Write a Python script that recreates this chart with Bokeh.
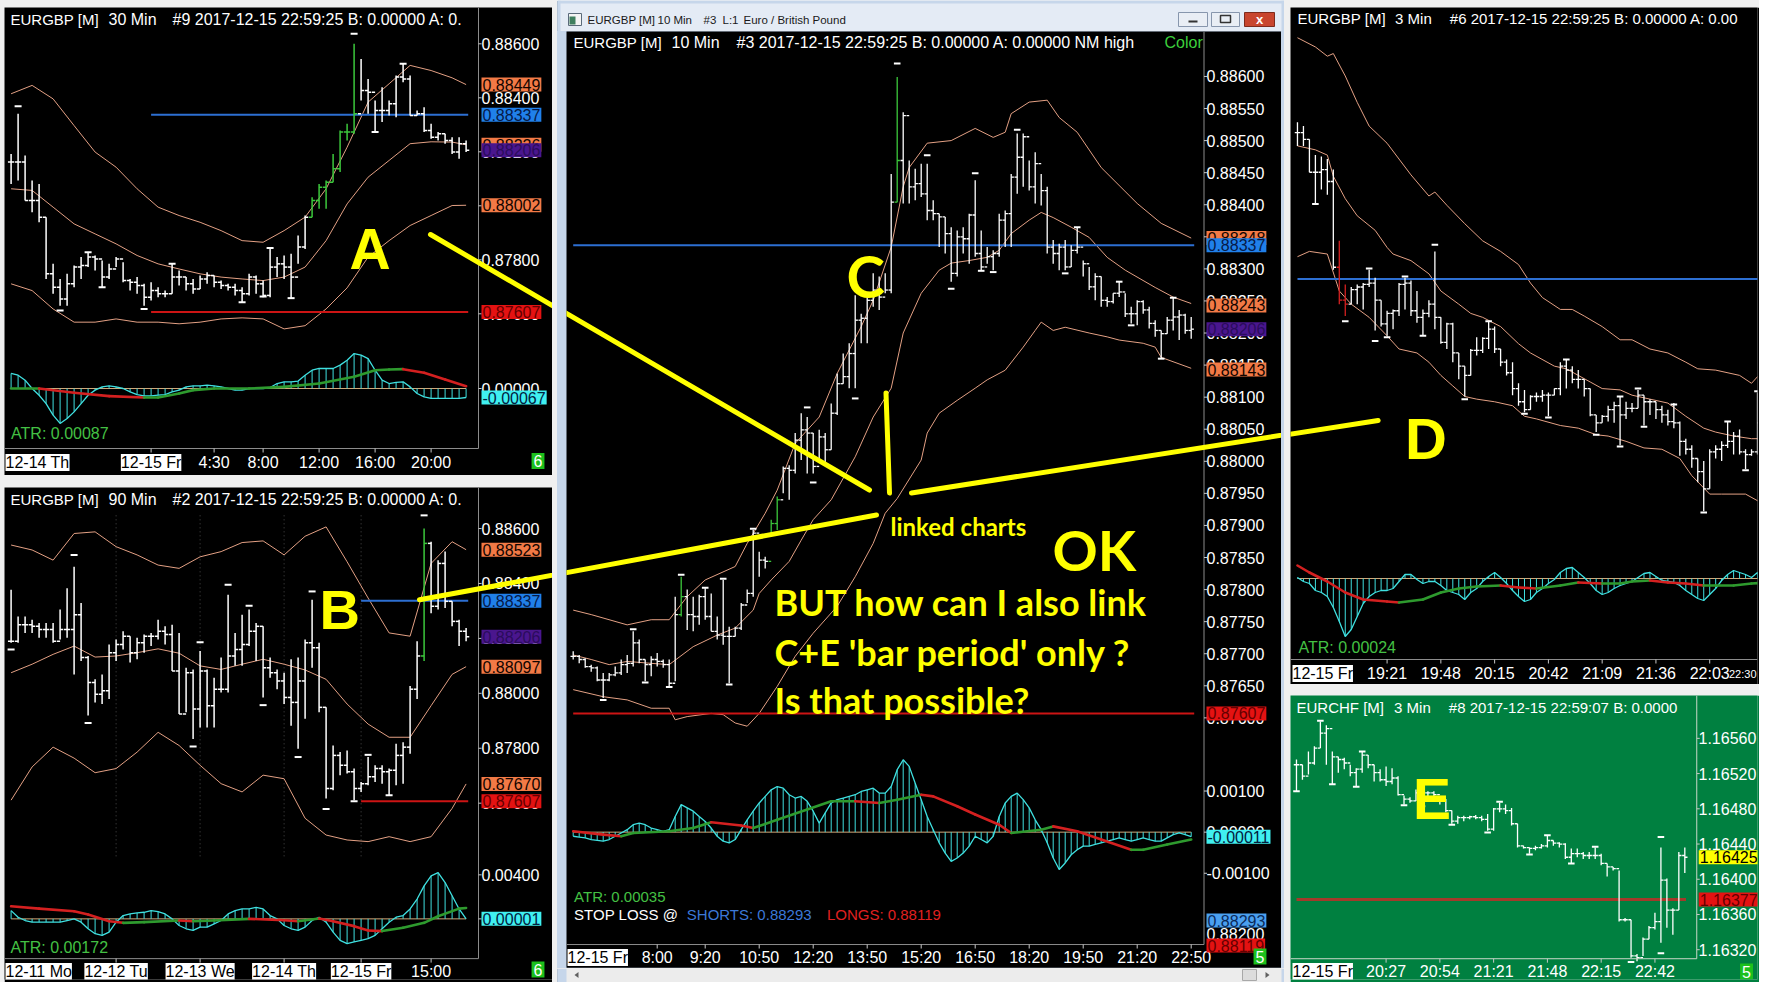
import numpy as np
from bokeh.plotting import figure
from bokeh.models import Range1d, FixedTicker, PrintfTickFormatter, Label, Arrow, Spacer
from bokeh.layouts import row, column
from bokeh.embed import file_html
from bokeh.resources import INLINE

# ===================== DATA (prices in 1e-5 units) =====================
# ---------- A : EURGBP 30 Min ----------
A_high = [88192,88341,88186,88094,88081,87958,87785,87729,87748,87779,87810,87828,87816,87797,87785,87810,87791,87729,87736,87711,87717,87698,87686,87785,87760,87736,87729,87742,87754,87742,87723,87711,87711,87698,87748,87742,87723,87847,87810,87816,87822,87890,87964,88032,88081,88094,88192,88279,88304,88600,88544,88470,88390,88439,88390,88483,88526,88483,88353,88365,88304,88273,88267,88254,88254,88242]
A_low = [88081,88094,88020,87976,87939,87729,87674,87630,87630,87698,87729,87773,87760,87698,87729,87773,87717,87686,87674,87630,87649,87661,87661,87674,87705,87686,87674,87692,87711,87698,87692,87686,87668,87643,87668,87674,87661,87661,87736,87729,87655,87785,87840,87958,87989,87989,88087,88125,88242,88267,88390,88341,88273,88310,88334,88328,88458,88334,88334,88273,88248,88242,88230,88192,88174,88199]
A_close = [88162,88162,88020,88020,87958,87748,87698,87655,87711,87773,87779,87810,87803,87736,87766,87803,87723,87717,87705,87661,87686,87674,87674,87736,87736,87711,87692,87729,87742,87717,87705,87698,87686,87674,87736,87711,87668,87773,87785,87773,87736,87847,87958,88020,88069,88087,88137,88273,88273,88341,88427,88421,88353,88353,88378,88477,88470,88334,88341,88279,88254,88267,88242,88199,88230,88206]
A_green = [43, 44, 45, 46, 47, 48, 49]
A_mark_idx = [1, 7, 11, 13, 19, 23, 33, 36, 37, 40, 49, 52, 56]
A_mark = [88369, 87612, 87828, 87698, 87618, 87785, 87643, 87664, 87844, 87658, 88637, 88273, 88526]
A_band_idx = [0,3,6,9,12,15,18,21,24,27,30,33,36,39,42,45,48,51,54,57,60,63,65]
A_upper = [88415,88446,88396,88297,88199,88143,88063,87995,87964,87939,87908,87871,87865,87908,87958,88063,88217,88384,88452,88520,88501,88474,88449]
A_mid = [88063,88057,87995,87933,87896,87859,87816,87785,87766,87748,87736,87729,87723,87736,87773,87871,88007,88106,88168,88230,88237,88236,88226]
A_lower = [87711,87686,87618,87569,87569,87581,87569,87569,87563,87569,87581,87585,87581,87544,87556,87618,87696,87810,87871,87927,87964,88001,88002]
A_hist = [112,99,62,0,-50,-112,-198,-260,-223,-174,-112,-50,-12,12,20,12,0,-25,-45,-55,-55,-50,-45,-25,-12,12,20,20,25,20,12,0,-12,-12,0,0,0,7,37,50,50,55,99,136,149,149,149,174,211,260,248,223,136,62,37,45,50,12,-37,-62,-74,-74,-74,-74,-74,-67]
A_sig_idx = [0,4,9,14,19,21,24,26,29,34,39,44,49,52,54,56,59,62,65]
A_sig = [0,0,-32,-57,-67,-67,-37,-12,0,0,12,37,87,136,141,144,117,67,17]
A_levels = [0.88337, 0.87607]
A_level_from = 20
A_time_ticks = [29, 36, 44, 52, 60]
A_time_labels = ["4:30", "8:00", "12:00", "16:00", "20:00"]
A_date_ticks = [20]
A_date_labels = ["12-15 Fr"]
A_price_ticks = [0.876, 0.878, 0.880, 0.882, 0.884, 0.886]
A_ind_ticks = [0.0]
A_tags = [0.88449, 0.88337, 0.88226, 0.88206, 0.88002, 0.87607]
A_tag_kinds = ["orange", "blue", "orange", "purple", "orange", "red"]
A_ind_tag = -0.00067

# ---------- B : EURGBP 90 Min ----------
B_high = [88377,88280,88280,88268,88256,88256,88256,88305,88383,88461,88329,88136,88051,88069,88178,88196,88226,88208,88202,88214,88220,88268,88244,88250,88220,88093,88087,88154,88087,88057,88130,88359,88220,88286,88305,88256,88244,88130,88087,88075,88124,88130,88196,88341,88184,87949,87810,87786,87792,87726,87677,87768,87738,87738,87726,87816,87822,88027,88190,88600,88552,88485,88516,88335,88268,88238]
B_low = [88184,88184,88220,88220,88202,88202,88184,88196,88202,88069,88118,87919,87967,87961,87979,88118,88160,88112,88124,88148,88172,88196,88178,88081,87925,87931,87834,87876,87876,87876,88003,88003,88100,88100,88172,88118,87985,88057,88015,87961,87882,87798,87907,88093,87931,87617,87647,87702,87708,87611,87641,87665,87677,87671,87629,87665,87671,87780,87979,88118,88292,88305,88311,88244,88172,88190]
B_close = [88190,88250,88250,88244,88232,88232,88190,88232,88232,88286,88130,88039,87997,88009,88148,88178,88208,88148,88184,88208,88208,88226,88214,88081,87925,88075,87943,88081,87955,88015,88015,88136,88160,88178,88226,88244,88093,88075,88045,87985,87967,88045,88184,88166,87949,87653,87774,87738,87714,87653,87671,87696,87726,87714,87720,87774,87804,88015,88136,88546,88317,88473,88335,88262,88226,88206]
B_green = [59]
B_mark_idx = [0, 9, 11, 26, 27, 31, 34, 36, 41, 43, 45, 49, 51, 54, 59]
B_mark = [88160, 88504, 87892, 87806, 88186, 88395, 88319, 87957, 87768, 88371, 87579, 87607, 87776, 87629, 88648]
B_band_idx = [0,3,6,9,12,15,18,21,24,27,30,33,36,39,42,45,48,51,54,57,60,63,65]
B_upper = [88540,88522,88485,88582,88588,88534,88504,88467,88455,88497,88516,88549,88555,88504,88572,88606,88479,88347,88220,88208,88473,88552,88523]
B_mid = [88075,88106,88142,88172,88132,88136,88148,88162,88146,88100,88087,88106,88124,88106,88085,88051,87961,87888,87840,87840,87955,88069,88097]
B_lower = [87611,87732,87804,87764,87711,87726,87786,87858,87810,87738,87671,87641,87702,87689,87545,87484,87466,87460,87478,87460,87478,87581,87670]
B_hist = [75,15,-15,-30,-30,-30,-30,-30,-15,0,-30,-90,-135,-150,-120,-30,30,45,54,60,75,66,45,0,-60,-90,-105,-75,-75,-45,-15,45,75,90,90,105,90,30,0,-60,-90,-105,-75,-15,15,-30,-120,-195,-225,-210,-195,-180,-150,-90,-30,15,30,90,180,300,390,420,330,210,90,1]
B_sig_idx = [0,4,9,11,14,16,19,24,26,29,34,39,41,44,46,49,51,53,56,59,61,64,65]
B_sig = [114,93,69,39,-21,-36,-30,-15,-21,-15,0,-12,-21,3,-21,-66,-105,-111,-81,-36,24,93,99]
B_levels = [0.88337, 0.87607]
B_level_from = 50
B_time_ticks = [60]
B_time_labels = ["15:00"]
B_date_ticks = [15, 27, 39, 50]
B_date_labels = ["12-12 Tu", "12-13 We", "12-14 Th", "12-15 Fr"]
B_price_ticks = [0.876, 0.878, 0.880, 0.882, 0.884, 0.886]
B_ind_ticks = [0.004, 0.0]
B_tags = [0.88523, 0.88337, 0.88206, 0.88097, 0.87670, 0.87607]
B_tag_kinds = ["orange", "blue", "purple", "orange", "orange", "red"]
B_ind_tag = 0.00001

# ---------- C : EURGBP 10 Min ----------
C_high = [87704,87698,87693,87683,87680,87670,87670,87680,87691,87698,87735,87722,87691,87696,87701,87691,87691,87789,87820,87800,87789,87792,87802,87794,87758,87815,87742,87742,87779,87800,87893,87859,87851,87909,87945,
          87992,87994,88044,88075,88069,88044,88049,88044,88090,88137,88168,88184,88259,88230,88262,88293,88288,88293,88448,88599,88544,88469,88456,88464,88464,88407,88386,88381,88365,88360,88365,88386,88438,88360,88334,88329,88386,88391,88448,88511,88511,88469,88482,88448,88428,88345,88339,88345,88337,88365,88313,88303,88293,88288,88256,88262,88280,88262,88241,88251,88251,88241,88220,88204,88225,88256,88236,88230,88225]
C_low = [87691,87685,87678,87672,87657,87631,87657,87665,87667,87670,87680,87685,87657,87665,87680,87678,87649,87657,87758,87737,87735,87745,87753,87735,87722,87714,87654,87727,87737,87779,87789,87820,87833,87883,87893,
         87950,87940,87981,88002,87981,87981,88002,87997,88018,88072,88121,88114,88114,88184,88184,88241,88236,88262,88262,88404,88402,88402,88407,88412,88376,88376,88334,88324,88280,88288,88324,88308,88319,88298,88308,88298,88319,88334,88334,88417,88428,88422,88402,88399,88324,88308,88298,88298,88303,88324,88288,88267,88251,88241,88241,88246,88256,88225,88215,88212,88230,88207,88194,88160,88199,88204,88189,88199,88191]
C_close = [87696,87691,87680,87678,87659,87659,87667,87670,87683,87685,87717,87691,87683,87691,87688,87683,87654,87761,87789,87761,87758,87789,87758,87735,87729,87727,87727,87740,87776,87794,87888,87846,87844,87903,87940,
           87989,87986,88033,88049,88044,87992,88038,88018,88075,88121,88132,88168,88220,88223,88251,88267,88256,88267,88404,88469,88539,88428,88433,88417,88391,88386,88381,88355,88293,88350,88347,88384,88324,88303,88319,88324,88376,88386,88443,88474,88506,88428,88464,88422,88334,88324,88334,88303,88329,88334,88308,88272,88288,88251,88249,88262,88264,88230,88230,88249,88236,88215,88204,88199,88220,88225,88228,88204,88206]
C_green = [18, 33, 34, 54]
C_mark_idx = [5,10,12,16,18,22,25,26,30,39,40,47,54,59,63,67,68,70,74,82,84,91,93,98,100]
C_mark = [87628,87738,87655,87648,87823,87803,87817,87652,87895,88084,87967,88098,88620,88477,88269,88449,88297,88295,88517,88293,88365,88280,88212,88160,88255]
C_up_idx = [0,3,9,13,16,19,22,27,29,32,34,37,41,44,48,50,53,55,56,59,63,67,70,72,73,76,79,81,84,88,94,98,103]
C_upper = [87768,87761,87745,87753,87753,87789,87815,87836,87872,87919,87955,88028,88069,88137,88210,88251,88334,88428,88458,88496,88500,88519,88505,88513,88542,88560,88563,88536,88513,88458,88402,88371,88348]
C_mid_idx = [0,3,6,9,13,16,20,24,27,30,31,33,36,38,40,43,47,50,53,55,58,61,63,66,69,71,73,76,78,80,83,86,89,92,97,100,103]
C_mid = [87698,87691,87683,87688,87685,87683,87711,87729,87740,87768,87794,87815,87844,87877,87909,87940,88007,88069,88114,88200,88262,88298,88309,88313,88318,88329,88355,88376,88388,88380,88365,88349,88318,88298,88271,88256,88246]
C_lo_idx = [0,5,9,13,16,17,19,23,25,27,29,31,34,37,40,44,47,50,52,54,58,59,61,64,67,69,72,75,77,78,80,82,86,89,91,95,97,98,103]
C_lower = [87644,87633,87628,87615,87615,87597,87602,87607,87605,87592,87587,87607,87649,87696,87732,87774,87820,87872,87919,87942,88002,88044,88075,88095,88114,88127,88142,88178,88204,88217,88204,88209,88200,88194,88189,88184,88178,88162,88145]
C_hist = [-10,-12,-14,-18,-20,-22,-18,-10,-2,6,18,22,18,10,6,2,6,38,67,59,51,38,26,10,-10,-22,-26,-18,6,30,51,71,87,103,111,107,91,83,87,75,51,22,47,71,79,83,87,91,99,103,107,95,95,111,152,176,160,119,79,38,6,-26,-51,-71,-63,-51,-34,-10,-18,-26,-10,38,71,87,95,79,59,30,6,-26,-63,-91,-75,-55,-43,-34,-34,-30,-26,-22,-18,-14,-18,-22,-18,-14,-18,-22,-22,-14,-6,-2,-6,-11]
C_sig_idx = [0,5,8,10,16,20,23,28,30,34,39,43,47,51,54,58,60,64,67,71,73,78,80,84,88,93,95,99,103]
C_sig = [2,-6,-10,-2,2,10,24,16,10,30,55,75,75,71,79,91,87,63,43,18,-2,6,14,2,-18,-43,-43,-30,-18]
C_levels = [0.88337, 0.87607]
C_level_span = [0, 103.5]
C_time_ticks = [14, 22, 31, 40, 49, 58, 67, 76, 85, 94, 103]
C_time_labels = ["8:00", "9:20", "10:50", "12:20", "13:50", "15:20", "16:50", "18:20", "19:50", "21:20", "22:50"]
C_price_ticks = [round(0.876 + 0.0005 * j, 5) for j in range(21)]
C_ind_ticks = [0.001, 0.0, -0.001]
C_tags = [0.88348, 0.88337, 0.88243, 0.88206, 0.88143, 0.87607]
C_tag_kinds = ["orange", "blue", "orange", "purple", "orange", "red"]
C_ind_tag = -0.00011
C_stops = [0.88293, 0.88200, 0.88119]

# ---------- D : EURGBP 3 Min ----------
D_high = [88456,88453,88443,88431,88430,88428,88420,88366,88333,88331,88333,88334,88344,88338,88321,88313,88314,88334,88338,88336,88328,88314,88321,88358,88308,88304,88304,88281,88271,88284,88293,88293,88305,88301,88284,88276,88274,88258,88253,88249,88251,88253,88251,88254,88274,88276,88271,88268,88261,88254,88234,88234,88241,88244,88248,88244,88243,88253,88249,88246,88244,88241,88238,88243,88229,88216,88211,88201,88199,88208,88211,88214,88229,88221,88223,88208,88208,88251,88231,88219]
D_low = [88438,88438,88418,88394,88405,88401,88344,88318,88309,88318,88318,88314,88331,88298,88301,88294,88299,88309,88314,88309,88304,88294,88308,88299,88288,88284,88274,88261,88248,88264,88279,88281,88284,88281,88271,88264,88249,88241,88236,88238,88244,88244,88233,88249,88249,88254,88258,88254,88248,88233,88221,88228,88229,88228,88211,88231,88236,88239,88226,88234,88231,88228,88226,88224,88203,88204,88194,88183,88161,88178,88201,88199,88209,88204,88204,88193,88203,88204,88214,88204]
D_close = [88448,88443,88418,88418,88420,88411,88346,88321,88318,88329,88331,88333,88334,88321,88303,88311,88313,88333,88334,88313,88308,88311,88318,88308,88289,88303,88281,88271,88264,88283,88283,88292,88299,88284,88274,88266,88254,88244,88238,88248,88248,88249,88249,88254,88271,88268,88261,88261,88254,88234,88228,88233,88238,88241,88234,88239,88239,88249,88244,88244,88238,88234,88229,88228,88214,88208,88201,88191,88178,88206,88208,88211,88214,88218,88206,88204,88206,88228,88219,88208]
D_red = [7, 8]
D_mark_idx = [3,8,12,13,15,18,21,23,28,32,38,42,45,50,54,54,57,58,63,68,72,75,77]
D_mark = [88394,88305,88345,88290,88293,88339,88294,88363,88246,88305,88235,88232,88276,88219,88210,88248,88254,88225,88242,88160,88229,88192,88252]
D_up_idx = [0,3,5,6,8,10,12,15,19,22,23,25,28,31,34,37,39,41,44,46,48,51,54,56,59,62,65,67,70,74,76,77,79]
D_upper = [88520,88513,88506,88508,88491,88471,88453,88440,88416,88400,88403,88393,88379,88366,88358,88348,88334,88323,88314,88314,88309,88301,88291,88291,88284,88281,88274,88269,88268,88264,88258,88263,88263]
D_mid_idx = [0,3,5,6,8,10,13,15,16,19,22,24,27,29,31,34,37,39,43,45,47,49,51,54,56,59,62,65,68,70,73,76,79]
D_mid = [88438,88435,88431,88415,88398,88385,88374,88361,88356,88351,88341,88328,88318,88311,88308,88301,88288,88281,88271,88269,88264,88259,88254,88253,88249,88246,88243,88233,88224,88221,88218,88216,88216]
D_lo_idx = [0,2,5,7,9,12,15,17,20,22,24,26,28,30,33,36,38,40,44,47,50,52,55,58,61,64,66,69,71,75,77,79]
D_lower = [88354,88358,88356,88328,88318,88308,88294,88284,88281,88274,88264,88256,88248,88246,88244,88241,88233,88231,88226,88224,88219,88218,88214,88209,88208,88201,88188,88174,88174,88174,88169,88169]
D_hist = [1,-3,-5,-12,-14,-18,-29,-43,-58,-51,-38,-25,-18,-14,-12,-12,-10,-3,4,4,-1,-5,-3,-3,-7,-12,-14,-16,-21,-14,-10,-3,2,6,1,-5,-12,-18,-23,-21,-14,-10,-5,-1,6,10,11,6,1,-5,-12,-16,-14,-10,-7,-5,-3,1,5,6,2,-2,-3,-4,-7,-12,-16,-20,-22,-16,-10,-2,4,8,6,4,1,6,6,5]
D_sig_idx = [0,2,5,8,11,15,17,21,24,27,30,34,37,40,44,47,51,54,56,59,62,65,68,70,73,76,79]
D_sig = [13,6,-3,-14,-21,-23,-24,-21,-14,-10,-8,-7,-9,-10,-7,-4,-5,-5,-3,-2,-4,-5,-7,-7,-7,-5,-4]
D_level = 0.88337
D_time_ticks = [15, 24, 33, 42, 51, 60, 69]
D_time_labels = ["19:21", "19:48", "20:15", "20:42", "21:09", "21:36", "22:03"]
D_last_tick, D_last_label = 78, "22:30"

# ---------- E : EURCHF 3 Min ----------
E_high = [116536,116530,116545,116551,116579,116575,116545,116539,116538,116530,116526,116545,116541,116530,116525,116528,116526,116517,116495,116493,116502,116500,116500,116500,116493,116491,116478,116472,116472,116472,116473,116472,116474,116481,116487,116485,116481,116463,116438,116436,116438,116440,116450,116444,116442,116441,116435,116435,116431,116431,116436,116429,116418,116414,116410,116356,116354,116315,116334,116347,116362,116436,116401,116367,116431,116436]
E_low = [116500,116513,116519,116530,116549,116530,116508,116521,116525,116517,116506,116521,116526,116511,116511,116506,116508,116495,116485,116487,116489,116483,116493,116493,116485,116476,116463,116463,116466,116468,116468,116466,116455,116455,116476,116474,116461,116436,116435,116429,116433,116435,116436,116438,116436,116423,116418,116425,116423,116423,116423,116416,116403,116410,116352,116352,116311,116307,116313,116332,116343,116328,116345,116337,116365,116407]
E_close = [116530,116517,116532,116549,116566,116571,116539,116536,116532,116521,116525,116541,116530,116521,116513,116511,116515,116496,116491,116489,116498,116498,116498,116496,116491,116478,116466,116470,116470,116471,116470,116468,116457,116480,116480,116478,116463,116438,116436,116435,116436,116438,116444,116441,116440,116425,116429,116429,116427,116427,116427,116418,116414,116412,116354,116354,116313,116311,116332,116345,116352,116399,116365,116365,116427,116425]
E_mark_idx = [0,4,6,10,11,18,21,26,32,34,39,42,46,50,56,61,61]
E_mark = [116500,116580,116508,116505,116545,116484,116483,116462,116453,116488,116428,116450,116418,116437,116306,116448,116316]
E_level = 1.16377
E_time_ticks = [15, 24, 33, 42, 51, 60]
E_time_labels = ["20:27", "20:54", "21:21", "21:48", "22:15", "22:42"]
E_price_ticks = [round(1.1632 + 0.0004 * j, 5) for j in range(7)]
E_tags = [1.16425, 1.16377]
E_tag_kinds = ["yellow", "red"]

# ===================== STYLE =====================
FONT = "Liberation Sans"
PAGE = "#f0f0f0"
CHROME = "#c6d6ea"
AXIS = "#8c8c8c"
BAND = "#e3a084"
CYAN = "#3fe0e0"
ZERO = "#d2a878"
SIG_UP = "#2e9a2e"
SIG_DN = "#d42020"
BLUE_LINE = "#2d6fd2"
RED_LINE = "#cc1414"
BAR_UP = "#3cc83c"
BAR_DN = "#d42020"
YEL = "#ffff00"
GREEN_E = "#008040"
TAGS = {"orange": ("#f27a46", "#120500"), "blue": ("#2080ea", "#061a48"),
        "purple": ("#4a168e", "#2a0c5c"), "red": ("#e41212", "#640000"),
        "cyan": ("#40f0f0", "#002040"), "lblue": ("#4aa0f0", "#0a2a5a"),
        "yellow": ("#ffff00", "#000000")}


class Pane:
    """A chart window; geometry given in screen pixels of the picture."""
    def __init__(self, X0, Y0, W, H, xa, xb, pref, ya, k, z0=None, kz=None, bg="black", yaxis=True):
        self.X0, self.Y0, self.W, self.H = X0, Y0, W, H
        self.xa, self.xb, self.pref, self.ya, self.k = xa, xb, pref, ya, k
        self.z0, self.kz = z0, kz
        p = figure(width=W, height=H,
                   x_range=Range1d(self.X(X0), self.X(X0 + W)),
                   y_range=Range1d(self.Y(Y0 + H), self.Y(Y0)),
                   output_backend="svg", toolbar_location=None, tools="", title=None,
                   x_axis_location="below", y_axis_location=("right" if yaxis else None),
                   min_border=0, min_border_left=0, min_border_right=0,
                   min_border_top=0, min_border_bottom=0,
                   background_fill_color=bg, border_fill_color=bg, outline_line_color=None)
        p.grid.visible = False
        if z0 is not None:
            p.extra_y_ranges = {"ind": Range1d(self.V(Y0 + H), self.V(Y0))}
        self.p = p

    def X(self, px):
        return (px - self.xa) / self.xb

    def Y(self, py):
        return self.pref - (py - self.ya) / self.k

    def V(self, py):
        return (self.z0 - py) / self.kz

    def vy(self, v):
        return self.Y(self.z0 - v * self.kz)


def pts(a):
    return np.array(a, dtype=float) / 1e5


def draw_bars(pane, hi, lo, cl, special=(), scolor=BAR_UP, w=1.4, tick=0.45):
    n = min(len(hi), len(lo), len(cl))
    hi, lo, cl = pts(hi[:n]), pts(lo[:n]), pts(cl[:n])
    op = np.concatenate([[cl[0]], cl[:-1]])
    idx = np.arange(n, dtype=float)
    cols = ["#ffffff"] * n
    for s in special:
        if s < n:
            cols[s] = scolor
    p = pane.p
    p.segment(x0=idx, y0=lo, x1=idx, y1=hi, line_color=cols, line_width=w)
    p.segment(x0=idx - tick, y0=op, x1=idx, y1=op, line_color=cols, line_width=w)
    p.segment(x0=idx, y0=cl, x1=idx + tick, y1=cl, line_color=cols, line_width=w)


def draw_marks(pane, idx, vals, half=0.5):
    n = min(len(idx), len(vals))
    i = np.array(idx[:n], dtype=float)
    v = pts(vals[:n])
    pane.p.segment(x0=i - half, y0=v, x1=i + half, y1=v, line_color="#ffffff", line_width=2)


def draw_band(pane, idx, vals):
    n = min(len(idx), len(vals))
    pane.p.line(np.array(idx[:n], dtype=float), pts(vals[:n]), line_color=BAND, line_width=1)


def draw_hist(pane, hist):
    h = pts(hist)
    i = np.arange(len(h), dtype=float)
    p = pane.p
    p.line([0, len(h) - 1], [0, 0], y_range_name="ind", line_color=ZERO, line_width=1)
    p.segment(x0=i, y0=np.zeros(len(h)), x1=i, y1=h, y_range_name="ind", line_color=CYAN, line_width=1)
    p.line(i, h, y_range_name="ind", line_color=CYAN, line_width=1.3)


def draw_signal(pane, sx, sv):
    n = min(len(sx), len(sv))
    x = np.array(sx[:n], dtype=float)
    v = pts(sv[:n])
    cols = [SIG_UP if v[j + 1] >= v[j] else SIG_DN for j in range(n - 1)]
    pane.p.segment(x0=x[:-1], y0=v[:-1], x1=x[1:], y1=v[1:], line_color=cols,
                   line_width=2.6, y_range_name="ind", line_cap="round")


def draw_level(pane, y, x0, x1, color, w=2):
    pane.p.segment(x0=[x0], y0=[y], x1=[x1], y1=[y], line_color=color, line_width=w)


def setup_yaxis(pane, price_ticks, ind_ticks, label_x):
    ax = pane.p.yaxis[0]
    ticks = list(price_ticks)
    over = {}
    for v in ind_ticks:
        pv = pane.vy(v)
        ticks.append(pv)
        over[pv] = "%.5f" % v
    ax.ticker = FixedTicker(ticks=ticks, minor_ticks=[])
    ax.formatter = PrintfTickFormatter(format="%.5f")
    if over:
        ax.major_label_overrides = over
    ax.major_label_standoff = int(round(label_x - (pane.X0 + pane.W)))
    ax.major_tick_out = 0
    ax.major_tick_in = 0
    ax.major_tick_line_color = None
    ax.minor_tick_line_color = None
    ax.axis_line_color = None
    ax.major_label_text_color = "#ffffff"
    ax.major_label_text_font = FONT
    ax.major_label_text_font_size = "16px"
    return ticks


def setup_xaxis(pane, ticks, labels, label_top):
    ax = pane.p.xaxis[0]
    ax.ticker = FixedTicker(ticks=list(ticks), minor_ticks=[])
    ax.major_label_overrides = {t: s for t, s in zip(ticks, labels)}
    ax.major_label_standoff = int(round(label_top - (pane.Y0 + pane.H)))
    ax.major_tick_out = 0
    ax.major_tick_in = 0
    ax.major_tick_line_color = None
    ax.minor_tick_line_color = None
    ax.axis_line_color = None
    ax.major_label_text_color = "#ffffff"
    ax.major_label_text_font = FONT
    ax.major_label_text_font_size = "16px"


def frame_lines(pane, fr, fb, yticks, xticks, color=AXIS):
    p = pane.p
    top, bot = pane.Y(pane.Y0), pane.Y(fb)
    xl = pane.X(pane.X0)
    if fr is not None:
        xr = pane.X(fr)
        p.segment(x0=[xr], y0=[top], x1=[xr], y1=[bot], line_color=color, line_width=1)
        p.segment(x0=[xl], y0=[bot], x1=[xr], y1=[bot], line_color=color, line_width=1)
        t = np.array(yticks, dtype=float)
        p.segment(x0=np.full(len(t), xr), y0=t, x1=np.full(len(t), pane.X(fr + 3)), y1=t,
                  line_color="#c8c8c8", line_width=1)
    else:
        p.segment(x0=[xl], y0=[bot], x1=[pane.X(pane.X0 + pane.W)], y1=[bot], line_color=color, line_width=1)
    tt = np.array(xticks, dtype=float)
    p.segment(x0=tt, y0=np.full(len(tt), bot), x1=tt, y1=np.full(len(tt), pane.Y(fb + 4)),
              line_color="#c8c8c8", line_width=1)


def text(pane, x, y, s, color="#ffffff", size=16, bold=False, font=FONT, align="left",
         baseline="middle", bg=None, pad=0, xdata=False):
    kw = dict(x=(x if xdata else pane.X(x)), y=pane.Y(y), text=s, text_color=color,
              text_font=font, text_font_size="%gpx" % size, text_align=align,
              text_baseline=baseline, text_font_style=("bold" if bold else "normal"))
    if bg is not None:
        kw.update(background_fill_color=bg, padding=pad)
    pane.p.add_layout(Label(**kw))


def tag(pane, val, kind, x_px, ind=False, y_px=None):
    bg, fg = TAGS[kind]
    kw = dict(x=pane.X(x_px), y=(pane.Y(y_px) if y_px is not None else val), text="%.5f" % val,
              text_color=fg, text_font=FONT, text_font_size="16px", text_align="left",
              text_baseline="middle", background_fill_color=bg, padding=1)
    if ind:
        kw["y_range_name"] = "ind"
    pane.p.add_layout(Label(**kw))


def yline(pane, a, b, w=5):
    pane.p.add_layout(Arrow(end=None, x_start=pane.X(a[0]), y_start=pane.Y(a[1]),
                            x_end=pane.X(b[0]), y_end=pane.Y(b[1]),
                            line_color=YEL, line_width=w, line_cap="round"))


def title_parts(pane, y, parts, color="#ffffff"):
    for s, x, size in parts:
        text(pane, x, y, s, color=color, size=size)


# yellow hand-drawn connectors (screen px)
L1 = ((430, 234), (869, 490))
L2 = ((419, 600), (876, 515))
L3 = ((885.5, 393), (889, 493))
L4 = ((911, 493), (1378, 420))

# ===================== PANE A =====================
A = Pane(4, 7, 548, 468, xa=10.6, xb=7.0, pref=0.886, ya=43.3, k=27000, z0=388, kz=13433)
draw_band(A, A_band_idx, A_upper)
draw_band(A, A_band_idx, A_mid)
draw_band(A, A_band_idx, A_lower)
draw_level(A, A_levels[0], A_level_from, len(A_close) - 0.7, BLUE_LINE)
draw_level(A, A_levels[1], A_level_from, len(A_close) - 0.7, RED_LINE)
draw_bars(A, A_high, A_low, A_close, A_green, BAR_UP, w=1.5, tick=0.45)
draw_marks(A, A_mark_idx, A_mark)
draw_hist(A, A_hist)
draw_signal(A, A_sig_idx, A_sig)
ytA = setup_yaxis(A, A_price_ticks, A_ind_ticks, 481)
setup_xaxis(A, A_time_ticks, A_time_labels, 453)
frame_lines(A, 478, 448, ytA, A_time_ticks + A_date_ticks)
title_parts(A, 19, [("EURGBP [M]", 10, 15), ("30 Min", 108, 16),
                    ("#9 2017-12-15 22:59:25 B: 0.00000 A: 0.", 172, 16)])
text(A, 10.6, 433, "ATR: 0.00087", color="#44c044")
for v, kd in zip(A_tags, A_tag_kinds):
    tag(A, v, kd, 481)
tag(A, A_ind_tag, "cyan", 481, ind=True)
text(A, 5, 462, "12-14 Th", color="#000000", align="left", bg="#ffffff")
for t, s in zip(A_date_ticks, A_date_labels):
    text(A, t, 462, s, color="#000000", align="center", bg="#ffffff", xdata=True)
text(A, 537.5, 460.5, "6", bg="#1cc01c", pad=2, align="center")
text(A, 349, 248, "A", color=YEL, size=57, bold=True, baseline="alphabetic")
yline(A, *L1)

# ===================== PANE B =====================
B = Pane(4, 487, 548, 495, xa=10.6, xb=7.0, pref=0.886, ya=528.3, k=27630, z0=921, kz=11075)
for t in B_date_ticks:
    B.p.segment(x0=[t], y0=[B.Y(515)], x1=[t], y1=[B.Y(860)], line_color="#4a4a4a",
                line_width=1, line_dash="1 3")
draw_band(B, B_band_idx, B_upper)
draw_band(B, B_band_idx, B_mid)
draw_band(B, B_band_idx, B_lower)
draw_level(B, B_levels[0], B_level_from, len(B_close) - 0.7, BLUE_LINE)
draw_level(B, B_levels[1], B_level_from, len(B_close) - 0.7, RED_LINE)
draw_bars(B, B_high, B_low, B_close, B_green, BAR_UP, w=1.5, tick=0.45)
draw_marks(B, B_mark_idx, B_mark)
draw_hist(B, B_hist)
draw_signal(B, B_sig_idx, B_sig)
ytB = setup_yaxis(B, B_price_ticks, B_ind_ticks, 481)
setup_xaxis(B, B_time_ticks, B_time_labels, 965)
frame_lines(B, 478, 961, ytB, B_time_ticks + B_date_ticks)
title_parts(B, 499, [("EURGBP [M]", 10, 15), ("90 Min", 108, 16),
                     ("#2 2017-12-15 22:59:25 B: 0.00000 A: 0.", 172, 16)])
text(B, 10, 950, "ATR: 0.00172", color="#44c044")
for v, kd in zip(B_tags, B_tag_kinds):
    tag(B, v, kd, 481)
tag(B, B_ind_tag, "cyan", 481, ind=True)
text(B, 5, 974, "12-11 Mo", color="#000000", align="left", bg="#ffffff")
for t, s in zip(B_date_ticks, B_date_labels):
    text(B, t, 974, s, color="#000000", align="center", bg="#ffffff", xdata=True)
text(B, 537.5, 972, "6", bg="#1cc01c", pad=2, align="center")
text(B, 319, 610, "B", color=YEL, size=56, bold=True, baseline="alphabetic")
yline(B, *L2)

# ===================== PANE C =====================
C = Pane(566, 31, 715, 937, xa=572.7, xb=6.0, pref=0.886, ya=76, k=64210, z0=832.5, kz=41150)
draw_band(C, C_up_idx, C_upper)
draw_band(C, C_mid_idx, C_mid)
draw_band(C, C_lo_idx, C_lower)
draw_level(C, C_levels[0], C_level_span[0], C_level_span[1], BLUE_LINE)
draw_level(C, C_levels[1], C_level_span[0], C_level_span[1], RED_LINE)
draw_bars(C, C_high, C_low, C_close, C_green, BAR_UP, w=1.3, tick=0.45)
draw_marks(C, C_mark_idx, C_mark, half=0.55)
draw_hist(C, C_hist)
draw_signal(C, C_sig_idx, C_sig)
ytC = setup_yaxis(C, C_price_ticks, C_ind_ticks, 1206)
setup_xaxis(C, C_time_ticks, C_time_labels, 949)
frame_lines(C, 1203.5, 945, ytC, C_time_ticks)
title_parts(C, 42, [("EURGBP [M]", 573, 15), ("10 Min", 671, 16),
                    ("#3 2017-12-15 22:59:25 B: 0.00000 A: 0.00000 NM high", 736, 16)])
text(C, 1164, 42, "Color", color="#3ccf3c")
text(C, 573.6, 897, "ATR: 0.00035", color="#44c044", size=15)
text(C, 573.6, 915, "STOP LOSS @", size=15)
text(C, 686.3, 915, "SHORTS: %.5f" % C_stops[0], color="#3c78d8", size=15)
text(C, 826.4, 915, "LONGS: %.5f" % C_stops[2], color="#e02020", size=15)
for v, kd in zip(C_tags, C_tag_kinds):
    tag(C, v, kd, 1206)
tag(C, C_ind_tag, "cyan", 1206, ind=True)
tag(C, C_stops[0], "lblue", 1206, y_px=921)
text(C, 1206, 934, "%.5f" % C_stops[1], size=16)
tag(C, C_stops[2], "red", 1206, y_px=946)
text(C, 567, 958, "12-15 Fr", color="#000000", align="left", bg="#ffffff")
text(C, 1259.5, 957, "5", bg="#1cc01c", pad=2, align="center")
text(C, 846, 275, "C", color=YEL, size=58, bold=True, font="Lato", baseline="alphabetic")
text(C, 890, 527, "linked charts", color=YEL, size=24, bold=True, font="Lato", baseline="alphabetic")
text(C, 1052, 550, "OK", color=YEL, size=56, bold=True, font="Lato", baseline="alphabetic")
text(C, 774, 602, "BUT how can I also link", color=YEL, size=36, bold=True, font="Lato", baseline="alphabetic")
text(C, 774, 652, "C+E 'bar period' only ?", color=YEL, size=36, bold=True, font="Lato", baseline="alphabetic")
text(C, 774, 700, "Is that possible?", color=YEL, size=36, bold=True, font="Lato", baseline="alphabetic")
yline(C, *L1)
yline(C, *L2)
yline(C, *L3)
yline(C, *L4)

# ===================== PANE D =====================
D = Pane(1290, 7, 469, 677, xa=1297, xb=6.0, pref=0.88337, ya=278.6, k=131900, z0=578, kz=100000, yaxis=False)
draw_band(D, D_up_idx, D_upper)
draw_band(D, D_mid_idx, D_mid)
draw_band(D, D_lo_idx, D_lower)
draw_level(D, D_level, 0, 90, BLUE_LINE)
draw_bars(D, D_high, D_low, D_close, D_red, BAR_DN, w=1.3, tick=0.45)
draw_marks(D, D_mark_idx, D_mark, half=0.55)
draw_hist(D, D_hist)
draw_signal(D, D_sig_idx, D_sig)
setup_xaxis(D, D_time_ticks, D_time_labels, 664)
frame_lines(D, None, 659, [], D_time_ticks)
# the last time label (its tick lies past the window edge) is squeezed in at the edge
text(D, 1758, 673, D_last_label, align="right", size=11)
title_parts(D, 18, [("EURGBP [M]", 1297, 15), ("3 Min", 1395, 15),
                    ("#6 2017-12-15 22:59:25 B: 0.00000 A: 0.00", 1450, 15)])
text(D, 1298, 647, "ATR: 0.00024", color="#44c044")
text(D, 1292, 673, "12-15 Fr", color="#000000", align="left", bg="#ffffff")
text(D, 1405, 438, "D", color=YEL, size=58, bold=True, baseline="alphabetic")
yline(D, *L4)

# ===================== PANE E =====================
E = Pane(1290, 695, 469, 287, xa=1296, xb=6.0, pref=1.1656, ya=738.3, k=89000, bg=GREEN_E)
draw_level(E, E_level, 0, len(E_close) - 0.8, "#a33a2a", w=3)
draw_bars(E, E_high, E_low, E_close, (), BAR_UP, w=1.3, tick=0.45)
draw_marks(E, E_mark_idx, E_mark, half=0.55)
ytE = setup_yaxis(E, E_price_ticks, [], 1700)
setup_xaxis(E, E_time_ticks, E_time_labels, 965)
frame_lines(E, 1698, 961, ytE, E_time_ticks, color="#c8d8c8")
title_parts(E, 707, [("EURCHF [M]", 1296, 15), ("3 Min", 1394, 15),
                     ("#8 2017-12-15 22:59:07 B: 0.0000", 1449, 15)])
for v, kd in zip(E_tags, E_tag_kinds):
    tag(E, v, kd, 1700)
text(E, 1292, 974, "12-15 Fr", color="#000000", align="left", bg="#ffffff")
text(E, 1748, 974, "5", bg="#1cc01c", pad=2, align="center")
text(E, 1413, 800, "E", color=YEL, size=57, bold=True, baseline="alphabetic")

# ===================== CENTER WINDOW CHROME =====================
def chrome_fig(w, h, bg):
    f = figure(width=w, height=h, x_range=Range1d(0, w), y_range=Range1d(h, 0),
               output_backend="svg", toolbar_location=None, tools="", title=None,
               x_axis_location=None, y_axis_location=None, min_border=0,
               min_border_left=0, min_border_right=0, min_border_top=0, min_border_bottom=0,
               background_fill_color=bg, border_fill_color=bg, outline_line_color=None)
    f.grid.visible = False
    return f

tb = chrome_fig(727, 31, "#e4ebf5")
tb.quad(left=[0, 724], right=[3, 727], top=[0, 0], bottom=[31, 31], fill_color=CHROME, line_color=None)
tb.quad(left=[0], right=[727], top=[0], bottom=[3], fill_color=CHROME, line_color=None)
tb.segment(x0=[0], y0=[0.5], x1=[0], y1=[31], line_color="#8aa0bc", line_width=1)
tb.quad(left=[11], right=[24], top=[13], bottom=[25], fill_color="#f4f4f4", line_color="#5a6a7a")
tb.quad(left=[12], right=[18], top=[16], bottom=[24], fill_color="#3f7f5f", line_color=None)
for s, x in [("EURGBP [M]", 30), ("10 Min", 100), ("#3", 146), ("L:1", 165), ("Euro / British Pound", 186)]:
    tb.add_layout(Label(x=x, y=19, text=s, text_color="#1a1a1a", text_font=FONT,
                        text_font_size="11.5px", text_baseline="middle"))
tb.quad(left=[621, 654], right=[650, 682], top=[12, 12], bottom=[26, 26], fill_color="#e9eef5", line_color="#8796ad")
tb.quad(left=[687], right=[717], top=[12], bottom=[26], fill_color="#c8452e", line_color="#7d2a1c")
tb.segment(x0=[631], y0=[21], x1=[640], y1=[21], line_color="#333333", line_width=2)
tb.quad(left=[663], right=[673], top=[15], bottom=[22], fill_color=None, line_color="#333333", line_width=1.5)
tb.add_layout(Label(x=702, y=19, text="x", text_color="#ffffff", text_font=FONT, text_font_size="13px",
                    text_font_style="bold", text_align="center", text_baseline="middle"))

sb = chrome_fig(727, 14, "#ececec")
sb.quad(left=[0, 724], right=[9, 727], top=[0, 0], bottom=[14, 14], fill_color=CHROME, line_color=None)
sb.segment(x0=[0], y0=[0], x1=[0], y1=[14], line_color="#8aa0bc", line_width=1)
sb.quad(left=[685], right=[699], top=[1], bottom=[12], fill_color="#dcdcdc", line_color="#a8a8a8")
sb.patch([17, 21, 21], [6.5, 3.5, 9.5], fill_color="#606060", line_color=None)
sb.patch([712, 708, 708], [6.5, 3.5, 9.5], fill_color="#606060", line_color=None)

# ===================== LAYOUT =====================
colL = column(Spacer(width=548, height=7), A.p, Spacer(width=548, height=12), B.p)
inner = row(Spacer(width=9, height=937), C.p, Spacer(width=3, height=937),
            styles={"background-color": CHROME})
colC = column(tb, inner, sb)
colR = column(Spacer(width=469, height=7), D.p, Spacer(width=469, height=11), E.p)
root = row(Spacer(width=4, height=982), colL, Spacer(width=5, height=982), colC,
           Spacer(width=6, height=982), colR,
           styles={"background-color": PAGE})

open("out.html", "w").write(file_html(root, INLINE, title="linked charts"))
